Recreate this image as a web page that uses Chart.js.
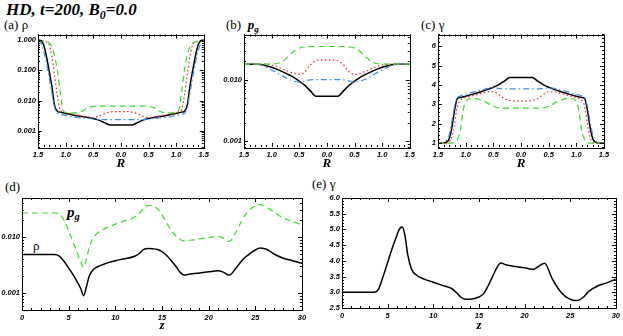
<!DOCTYPE html>
<html>
<head>
<meta charset="utf-8">
<script src="https://cdn.jsdelivr.net/npm/chart.js@4"></script>
<style>
  body { margin: 0; background: #fff; }
  #page { position: relative; width: 623px; height: 336px; overflow: hidden; background: #fff; }
  .panel { position: absolute; }
  .txt { position: absolute; font-family: "Liberation Serif", serif; color: #000; white-space: nowrap; line-height: 1; }
  .title { font-size: 17px; font-weight: bold; font-style: italic; }
  .lab { font-size: 13px; }
  .pg { font-weight: bold; font-style: italic; }
  .big { font-size: 15px; }
  sub { font-size: 0.7em; vertical-align: -0.3em; }
</style>
</head>
<body>
<div id="page">
  <div class="txt title" style="left:6px; top:1px;">HD, t=200, B<sub>0</sub>=0.0</div>
  <div class="txt lab" style="left:4px; top:18px;">(a) ρ</div>
  <div class="txt lab" style="left:226px; top:18px;">(b) &nbsp;<span class="pg">p<sub>g</sub></span></div>
  <div class="txt lab" style="left:421px; top:18px;">(c) γ</div>
  <div class="txt lab" style="left:5px; top:180px;">(d)</div>
  <div class="txt lab" style="left:312px; top:177px;">(e) γ</div>
  <div class="txt pg big" style="left:67px; top:205px;">p<sub>g</sub></div>
  <div class="txt lab" style="left:33px; top:239px;">ρ</div>

  <div class="panel" style="left:0px; top:28px;"><canvas id="chartA" width="212" height="146"></canvas></div>
  <div class="panel" style="left:212px; top:28px;"><canvas id="chartB" width="206" height="146"></canvas></div>
  <div class="panel" style="left:418px; top:28px;"><canvas id="chartC" width="205" height="146"></canvas></div>
  <div class="panel" style="left:0px; top:180px;"><canvas id="chartD" width="310" height="156"></canvas></div>
  <div class="panel" style="left:310px; top:180px;"><canvas id="chartE" width="313" height="156"></canvas></div>
</div>

<script>
'use strict';

// ******** DATA **********

let rGrid = [-1.5, -1.45, -1.4, -1.35, -1.3, -1.25, -1.2, -1.15, -1.1, -1.05, -1.0, -0.9, -0.8, -0.7, -0.6, -0.5, -0.4, -0.3, -0.2, -0.1, 0.0,
  0.1, 0.2, 0.3, 0.4, 0.5, 0.6, 0.7, 0.8, 0.9, 1.0, 1.05, 1.1, 1.15, 1.2, 1.25, 1.3, 1.35, 1.4, 1.45, 1.5];

// (a) density across R
let rhoBlack = [1.0, 0.95, 0.7, 0.3, 0.1, 0.03, 0.007, 0.0045, 0.0042, 0.004, 0.0038, 0.0035, 0.0032, 0.003, 0.0028, 0.0026, 0.0023, 0.0019, 0.0016, 0.0016, 0.0016,
  0.0016, 0.0016, 0.0019, 0.0023, 0.0026, 0.0028, 0.003, 0.0032, 0.0035, 0.0038, 0.004, 0.0042, 0.0045, 0.007, 0.03, 0.1, 0.3, 0.7, 0.95, 1.0];
let rhoRed = [1.0, 0.95, 0.9, 0.85, 0.7, 0.3, 0.07, 0.015, 0.005, 0.0043, 0.004, 0.0037, 0.0034, 0.0031, 0.0029, 0.0028, 0.0031, 0.0037, 0.0042, 0.0044, 0.0044,
  0.0044, 0.0042, 0.0037, 0.0031, 0.0028, 0.0029, 0.0031, 0.0034, 0.0037, 0.004, 0.0043, 0.005, 0.015, 0.07, 0.3, 0.7, 0.85, 0.9, 0.95, 1.0];
let rhoGreen = [1.0, 0.95, 0.9, 0.85, 0.8, 0.6, 0.3, 0.1, 0.02, 0.005, 0.0041, 0.004, 0.004, 0.0045, 0.0058, 0.0065, 0.0066, 0.0066, 0.0066, 0.0066, 0.0066,
  0.0066, 0.0066, 0.0066, 0.0066, 0.0065, 0.0058, 0.0045, 0.004, 0.004, 0.0041, 0.005, 0.02, 0.1, 0.3, 0.6, 0.8, 0.85, 0.9, 0.95, 1.0];
let rhoBlue = [1.0, 0.8, 0.45, 0.18, 0.06, 0.018, 0.006, 0.0038, 0.0036, 0.0034, 0.0033, 0.003, 0.0028, 0.0027, 0.0026, 0.0025, 0.0024, 0.0024, 0.0024, 0.0024, 0.0024,
  0.0024, 0.0024, 0.0024, 0.0024, 0.0025, 0.0026, 0.0027, 0.0028, 0.003, 0.0033, 0.0034, 0.0036, 0.0038, 0.006, 0.018, 0.06, 0.18, 0.45, 0.8, 1.0];

// (b) gas pressure across R
let pgBlack = [0.018, 0.018, 0.018, 0.018, 0.018, 0.018, 0.0178, 0.0175, 0.017, 0.0165, 0.016, 0.0148, 0.0135, 0.0122, 0.011, 0.0095, 0.0081, 0.0066, 0.0054, 0.0054, 0.0054,
  0.0054, 0.0054, 0.0066, 0.0081, 0.0095, 0.011, 0.0122, 0.0135, 0.0148, 0.016, 0.0165, 0.017, 0.0175, 0.0178, 0.018, 0.018, 0.018, 0.018, 0.018, 0.018];
let pgRed = [0.018, 0.018, 0.018, 0.018, 0.018, 0.018, 0.018, 0.018, 0.018, 0.0178, 0.0175, 0.0165, 0.015, 0.0138, 0.0128, 0.0123, 0.0135, 0.0175, 0.0205, 0.021, 0.021,
  0.021, 0.0205, 0.0175, 0.0135, 0.0123, 0.0128, 0.0138, 0.015, 0.0165, 0.0175, 0.0178, 0.018, 0.018, 0.018, 0.018, 0.018, 0.018, 0.018, 0.018, 0.018];
let pgGreen = [0.018, 0.018, 0.018, 0.018, 0.018, 0.018, 0.018, 0.018, 0.018, 0.018, 0.0182, 0.0185, 0.02, 0.024, 0.029, 0.033, 0.0345, 0.035, 0.035, 0.035, 0.035,
  0.035, 0.035, 0.035, 0.0345, 0.033, 0.029, 0.024, 0.02, 0.0185, 0.0182, 0.018, 0.018, 0.018, 0.018, 0.018, 0.018, 0.018, 0.018, 0.018, 0.018];
let pgBlue = [0.018, 0.018, 0.018, 0.018, 0.018, 0.018, 0.0175, 0.017, 0.016, 0.0152, 0.0145, 0.013, 0.0115, 0.0103, 0.0095, 0.0092, 0.0096, 0.01, 0.0101, 0.0101, 0.0101,
  0.0101, 0.0101, 0.01, 0.0096, 0.0092, 0.0095, 0.0103, 0.0115, 0.013, 0.0145, 0.0152, 0.016, 0.017, 0.0175, 0.018, 0.018, 0.018, 0.018, 0.018, 0.018];

// (c) Lorentz factor across R
let gamBlack = [1.0, 1.0, 1.0, 1.05, 1.2, 1.8, 2.7, 3.3, 3.35, 3.38, 3.42, 3.5, 3.58, 3.67, 3.77, 3.88, 4.02, 4.2, 4.38, 4.38, 4.38,
  4.38, 4.38, 4.2, 4.02, 3.88, 3.77, 3.67, 3.58, 3.5, 3.42, 3.38, 3.35, 3.3, 2.7, 1.8, 1.2, 1.05, 1.0, 1.0, 1.0];
let gamRed = [1.0, 1.0, 1.0, 1.0, 1.05, 1.3, 2.0, 2.9, 3.2, 3.3, 3.35, 3.42, 3.5, 3.58, 3.64, 3.65, 3.5, 3.3, 3.2, 3.17, 3.17,
  3.17, 3.2, 3.3, 3.5, 3.65, 3.64, 3.58, 3.5, 3.42, 3.35, 3.3, 3.2, 2.9, 2.0, 1.3, 1.05, 1.0, 1.0, 1.0, 1.0];
let gamGreen = [1.0, 1.0, 1.0, 1.0, 1.0, 1.0, 1.05, 1.2, 1.6, 2.6, 3.15, 3.3, 3.28, 3.2, 3.05, 2.9, 2.82, 2.8, 2.8, 2.8, 2.8,
  2.8, 2.8, 2.8, 2.82, 2.9, 3.05, 3.2, 3.28, 3.3, 3.15, 2.6, 1.6, 1.2, 1.05, 1.0, 1.0, 1.0, 1.0, 1.0, 1.0];
let gamBlue = [1.0, 1.0, 1.02, 1.1, 1.4, 2.1, 2.9, 3.35, 3.42, 3.48, 3.52, 3.6, 3.68, 3.75, 3.82, 3.85, 3.82, 3.8, 3.8, 3.8, 3.8,
  3.8, 3.8, 3.8, 3.82, 3.85, 3.82, 3.75, 3.68, 3.6, 3.52, 3.48, 3.42, 3.35, 2.9, 2.1, 1.4, 1.1, 1.02, 1.0, 1.0];

// (d), (e) profiles along z
let zGrid = [0, 1, 2, 3, 3.5, 4, 4.5, 5, 5.5, 6, 6.3, 6.6, 6.9, 7.2, 7.6, 8, 9, 10, 11, 12, 12.5, 13, 13.5, 14, 14.5, 15, 15.5, 16, 16.5, 17,
  17.4, 18, 19, 20, 21, 21.5, 22.2, 23, 23.5, 24, 24.5, 25, 25.5, 26, 26.5, 27, 28, 29, 30];
let zRho = [0.0049, 0.0049, 0.0049, 0.0049, 0.0049, 0.0046, 0.0037, 0.0028, 0.0021, 0.0015, 0.0012, 0.0009, 0.0013, 0.002, 0.0026, 0.0029, 0.0034, 0.0038, 0.0041, 0.0045,
  0.005, 0.006, 0.0063, 0.0062, 0.006, 0.0055, 0.0047, 0.0038, 0.003, 0.0023, 0.0021, 0.0022, 0.0023, 0.0024, 0.0025, 0.0024, 0.0021, 0.0029, 0.0037, 0.0045,
  0.0052, 0.0059, 0.0064, 0.0062, 0.0057, 0.005, 0.0042, 0.0038, 0.0034];
let zPg = [0.027, 0.027, 0.027, 0.027, 0.027, 0.026, 0.02, 0.013, 0.008, 0.0048, 0.0036, 0.0029, 0.004, 0.0065, 0.0095, 0.0115, 0.0145, 0.017, 0.0195, 0.0225,
  0.026, 0.032, 0.037, 0.036, 0.032, 0.025, 0.018, 0.013, 0.0105, 0.009, 0.0086, 0.0088, 0.0093, 0.0098, 0.0103, 0.0097, 0.0084, 0.013, 0.019, 0.026,
  0.032, 0.036, 0.038, 0.036, 0.032, 0.028, 0.022, 0.019, 0.0165];
let zGamma = [3.0, 3.0, 3.0, 3.0, 3.0, 3.1, 3.5, 3.95, 4.4, 4.8, 5.02, 5.08, 4.8, 4.2, 3.75, 3.58, 3.42, 3.32, 3.22, 3.12,
  3.0, 2.85, 2.78, 2.78, 2.8, 2.85, 2.95, 3.2, 3.5, 3.8, 3.93, 3.87, 3.82, 3.78, 3.73, 3.82, 3.92, 3.45, 3.2, 3.0,
  2.86, 2.78, 2.74, 2.76, 2.86, 3.02, 3.2, 3.3, 3.42];

// tick label sets
let rTicks = [-1.5, -1.0, -0.5, 0.0, 0.5, 1.0, 1.5];
let zTicks = [0, 5, 10, 15, 20, 25, 30];
let decadeTicks = [0.001, 0.01, 0.1, 1.0];
let gammaTicks = [1, 2, 3, 4, 5, 6];
let gammaZTicks = [2.5, 3.0, 3.5, 4.0, 4.5, 5.0, 5.5, 6.0];

// ********** STYLES ***********

const BLACK = '#000000';
const RED = '#ff2020';
const GREEN = '#33dd22';
const BLUE = '#3d8ff5';

const tickFont = { family: 'Liberation Sans', size: 7.5, weight: 'bold', style: 'italic' };
const titleFont = { family: 'Liberation Serif', size: 13, weight: 'bold', style: 'italic' };

// ********** HELPERS ***********

function toPoints(xs, ys) {
  return xs.map((x, i) => ({ x: x, y: ys[i] }));
}

function lineSet(xs, ys, color, dash, width) {
  return {
    data: toPoints(xs, ys),
    borderColor: color,
    borderWidth: width || 1.2,
    borderDash: dash || [],
    pointRadius: 0,
    fill: false,
    cubicInterpolationMode: 'monotone'
  };
}

function linVals(min, max, step) {
  let out = [];
  let start = Math.ceil(min / step - 1e-6);
  for (let k = start; k * step <= max + 1e-9; k++) {
    out.push(k * step);
  }
  return out;
}

function logVals(min, max, minor) {
  let out = [];
  let ks = minor ? [2, 3, 4, 5, 6, 7, 8, 9] : [1];
  for (let e = Math.floor(Math.log10(min)) - 1; e <= Math.ceil(Math.log10(max)); e++) {
    ks.forEach(k => {
      let v = k * Math.pow(10, e);
      if (v >= min * 0.999 && v <= max * 1.001) out.push(v);
    });
  }
  return out;
}

// box round the plot with IDL style inward ticks on all four sides
const idlBox = {
  id: 'idlBox',
  afterDraw(chart) {
    let o = chart.options.plugins.idlBox;
    let a = chart.chartArea;
    let xs = chart.scales.x;
    let ys = chart.scales.y;
    let c = chart.ctx;
    c.save();
    c.strokeStyle = '#000';
    c.lineWidth = 1;
    c.strokeRect(Math.round(a.left) + 0.5, Math.round(a.top) + 0.5, Math.round(a.right - a.left), Math.round(a.bottom - a.top));
    c.beginPath();
    let xMaj = linVals(xs.min, xs.max, o.xMajor);
    let xMin = linVals(xs.min, xs.max, o.xMinor);
    let yMaj = o.yLog ? logVals(ys.min, ys.max, false) : linVals(ys.min, ys.max, o.yMajor);
    let yMin = o.yLog ? logVals(ys.min, ys.max, true) : linVals(ys.min, ys.max, o.yMinor);
    function xTick(v, len) {
      let p = Math.round(xs.getPixelForValue(v)) + 0.5;
      c.moveTo(p, a.bottom); c.lineTo(p, a.bottom - len);
      c.moveTo(p, a.top); c.lineTo(p, a.top + len);
    }
    function yTick(v, len) {
      let p = Math.round(ys.getPixelForValue(v)) + 0.5;
      c.moveTo(a.left, p); c.lineTo(a.left + len, p);
      c.moveTo(a.right, p); c.lineTo(a.right - len, p);
    }
    xMin.forEach(v => xTick(v, 2));
    xMaj.forEach(v => xTick(v, 4));
    yMin.forEach(v => yTick(v, 2));
    yMaj.forEach(v => yTick(v, 4));
    c.stroke();
    c.restore();
  }
};

function makeChart(id, datasets, opts) {
  let ctx = document.getElementById(id).getContext('2d');
  return new Chart(ctx, {
    type: 'line',
    data: { datasets: datasets },
    options: {
      responsive: false,
      animation: false,
      devicePixelRatio: 1,
      layout: { padding: opts.padding },
      plugins: {
        legend: { display: false },
        tooltip: { enabled: false },
        idlBox: opts.box
      },
      scales: {
        x: {
          type: 'linear',
          min: opts.xMin,
          max: opts.xMax,
          grid: { display: false, drawTicks: false },
          border: { display: false },
          ticks: { color: '#000', font: tickFont, padding: 3, maxRotation: 0, autoSkip: false, callback: opts.xFormat },
          afterBuildTicks: s => { s.ticks = opts.xTicks.map(v => ({ value: v })); },
          afterFit: s => { s.height = opts.xHeight; },
          title: { display: true, text: opts.xTitle, color: '#000', font: titleFont, padding: { top: 0, bottom: 3 } }
        },
        y: {
          type: opts.yLog ? 'logarithmic' : 'linear',
          min: opts.yMin,
          max: opts.yMax,
          grid: { display: false, drawTicks: false },
          border: { display: false },
          ticks: { color: '#000', font: tickFont, padding: 2, autoSkip: false, callback: opts.yFormat },
          afterBuildTicks: s => { s.ticks = opts.yTicks.filter(v => v >= opts.yMin && v <= opts.yMax).map(v => ({ value: v })); },
          afterFit: s => { s.width = opts.yWidth; }
        }
      }
    },
    plugins: [idlBox]
  });
}

const absFmt = v => Math.abs(v).toFixed(1);
const logFmt = v => Number(v).toFixed(3);

// ********** CHARTS ***********

makeChart('chartA', [
  lineSet(rGrid, rhoGreen, GREEN, [6, 4]),
  lineSet(rGrid, rhoRed, RED, [1.5, 2.5]),
  lineSet(rGrid, rhoBlue, BLUE, [6, 3, 1.5, 3]),
  lineSet(rGrid, rhoBlack, BLACK, [], 1.5)
], {
  padding: { top: 5, right: 6, bottom: 0, left: 0 },
  xMin: -1.5, xMax: 1.5, xTicks: rTicks, xFormat: absFmt, xHeight: 27, xTitle: 'R',
  yLog: true, yMin: 0.0003, yMax: 1.5, yTicks: decadeTicks, yFormat: logFmt, yWidth: 38,
  box: { xMajor: 0.5, xMinor: 0.1, yLog: true }
});

makeChart('chartB', [
  lineSet(rGrid, pgGreen, GREEN, [6, 4]),
  lineSet(rGrid, pgRed, RED, [1.5, 2.5]),
  lineSet(rGrid, pgBlue, BLUE, [6, 3, 1.5, 3]),
  lineSet(rGrid, pgBlack, BLACK, [], 1.5)
], {
  padding: { top: 5, right: 8, bottom: 0, left: 0 },
  xMin: -1.5, xMax: 1.5, xTicks: rTicks, xFormat: absFmt, xHeight: 27, xTitle: 'R',
  yLog: true, yMin: 0.0008, yMax: 0.055, yTicks: decadeTicks, yFormat: logFmt, yWidth: 32,
  box: { xMajor: 0.5, xMinor: 0.1, yLog: true }
});

makeChart('chartC', [
  lineSet(rGrid, gamGreen, GREEN, [6, 4]),
  lineSet(rGrid, gamRed, RED, [1.5, 2.5]),
  lineSet(rGrid, gamBlue, BLUE, [6, 3, 1.5, 3]),
  lineSet(rGrid, gamBlack, BLACK, [], 1.5)
], {
  padding: { top: 6, right: 19, bottom: 0, left: 0 },
  xMin: -1.5, xMax: 1.5, xTicks: rTicks, xFormat: absFmt, xHeight: 27, xTitle: 'R',
  yLog: false, yMin: 0.8, yMax: 6.6, yTicks: gammaTicks, yFormat: v => Number(v).toFixed(0), yWidth: 20,
  box: { xMajor: 0.5, xMinor: 0.1, yMajor: 1, yMinor: 0.2 }
});

makeChart('chartD', [
  lineSet(zGrid, zPg, GREEN, [6, 4]),
  lineSet(zGrid, zRho, BLACK, [], 1.5)
], {
  padding: { top: 18, right: 8, bottom: 0, left: 0 },
  xMin: 0, xMax: 30, xTicks: zTicks, xFormat: v => String(v), xHeight: 26, xTitle: 'z',
  yLog: true, yMin: 0.0005, yMax: 0.05, yTicks: decadeTicks, yFormat: logFmt, yWidth: 22,
  box: { xMajor: 5, xMinor: 1, yLog: true }
});

makeChart('chartE', [
  lineSet(zGrid, zGamma, BLACK, [], 1.5)
], {
  padding: { top: 18, right: 5, bottom: 0, left: 0 },
  xMin: 0, xMax: 30, xTicks: zTicks, xFormat: v => String(v), xHeight: 28, xTitle: 'z',
  yLog: false, yMin: 2.5, yMax: 6.0, yTicks: gammaZTicks, yFormat: v => Number(v).toFixed(1), yWidth: 32,
  box: { xMajor: 5, xMinor: 1, yMajor: 0.5, yMinor: 0.1 }
});
</script>
</body>
</html>
